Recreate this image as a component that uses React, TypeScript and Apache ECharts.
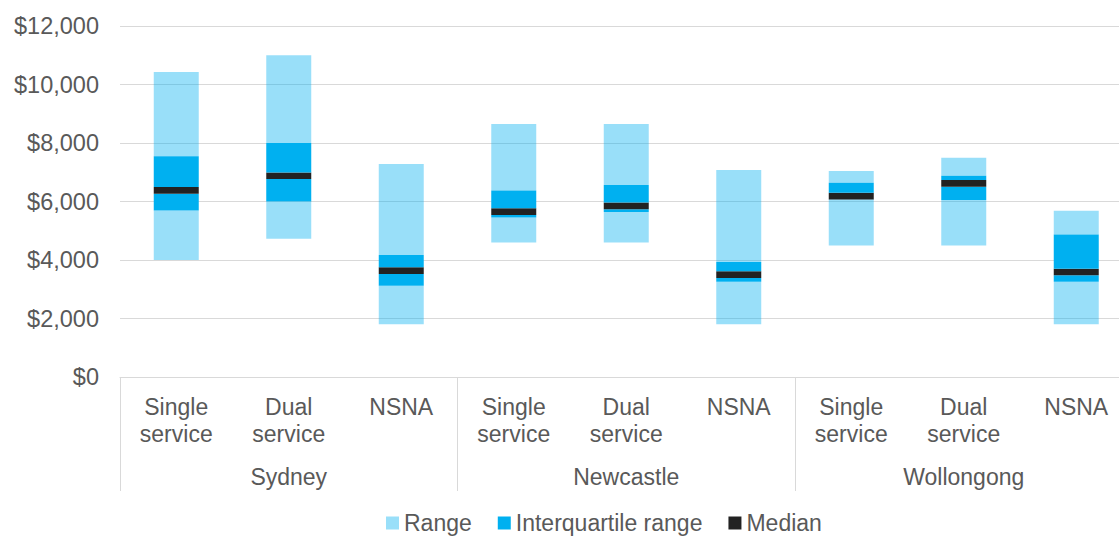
import React, { useEffect, useRef } from "react";
import * as echarts from "echarts";

const cities = ["Sydney", "Newcastle", "Wollongong"];
const types = ["Single service", "Dual service", "NSNA"];
const minVals = [4000, 4730, 1800, 4600, 4600, 1800, 4500, 4500, 1800];
const q1Vals = [5690, 6000, 3120, 5450, 5640, 3260, 6060, 6050, 3260];
const medianVals = [6380, 6880, 3640, 5650, 5850, 3500, 6180, 6620, 3590];
const q3Vals = [7550, 8000, 4170, 6380, 6560, 3930, 6640, 6880, 4870];
const maxVals = [10430, 11000, 7280, 8650, 8650, 7080, 7040, 7500, 5680];
const medianBand = 230;
const yTicks = [0, 2000, 4000, 6000, 8000, 10000, 12000];

const FONT = "'Liberation Sans', Arial, sans-serif";
const TEXT = "#595959";
const GRID = "#d9d9d9";

export default function App() {
  const ref = useRef<HTMLDivElement>(null);
  useEffect(() => {
    document.body.style.margin = "0";
    if (!ref.current) return;
    const chart = echarts.init(ref.current, undefined, { renderer: "svg" });
    const cats: string[] = [];
    cities.forEach((c) => types.forEach((t) => cats.push(c + "|" + t)));
    const h = medianBand / 2;
    const pos = (v: number) => Math.max(0, v);
    const base = minVals;
    const rangeLow = minVals.map((m, i) => pos(q1Vals[i] - m));
    const iqrLow = q1Vals.map((q, i) => pos(medianVals[i] - h - q));
    const med = medianVals.map(() => medianBand);
    const iqrHigh = q3Vals.map((q, i) => pos(q - (medianVals[i] + h)));
    const rangeHigh = maxVals.map((m, i) => pos(m - q3Vals[i]));
    const light = "rgba(0,176,240,0.4)";
    const blue = "#00B0F0";
    const dark = "#222222";
    const bar = (name: string, data: number[], color: string, extra: any = {}) => ({
      name,
      type: "bar",
      stack: "box",
      barWidth: 45,
      data,
      itemStyle: { color },
      emphasis: { disabled: true },
      ...extra,
    });
    chart.setOption({
      animation: false,
      textStyle: { fontFamily: FONT },
      grid: { left: 120, top: 26, width: 1012.5, height: 351, containLabel: false },
      legend: {
        data: ["Range", "Interquartile range", "Median"],
        left: 381,
        top: 506,
        itemWidth: 13,
        itemHeight: 13,
        itemGap: 26,
        icon: "rect",
        textStyle: { fontFamily: FONT, fontSize: 23, color: TEXT, lineHeight: 24 },
      },
      xAxis: [
        {
          type: "category",
          data: cats,
          position: "bottom",
          axisLine: { show: true, lineStyle: { color: GRID, width: 1 } },
          axisTick: { show: false },
          axisLabel: {
            interval: 0,
            margin: 16,
            color: TEXT,
            fontSize: 23,
            fontFamily: FONT,
            lineHeight: 27.5,
            formatter: (v: string) => v.split("|")[1].replace(" ", "\n"),
          },
        },
        {
          type: "category",
          data: cities,
          position: "bottom",
          axisLine: { show: false },
          axisTick: { show: true, interval: 0, length: 114, lineStyle: { color: GRID, width: 1 } },
          axisLabel: {
            interval: 0,
            margin: 86,
            color: TEXT,
            fontSize: 23,
            fontFamily: FONT,
            lineHeight: 27,
          },
        },
      ],
      yAxis: {
        type: "value",
        min: 0,
        max: 12000,
        interval: 2000,
        axisLine: { show: false },
        axisTick: { show: false },
        splitLine: { lineStyle: { color: GRID, width: 1 } },
        axisLabel: {
          margin: 21,
          color: TEXT,
          fontSize: 23.5,
          fontFamily: FONT,
          customValues: yTicks,
          formatter: (v: number) => "$" + v.toLocaleString("en-US"),
        },
      },
      series: [
        bar("base", base, "transparent", { silent: true }),
        bar("Range", rangeLow, light),
        bar("Interquartile range", iqrLow, blue),
        bar("Median", med, dark),
        bar("Interquartile range", iqrHigh, blue),
        bar("Range", rangeHigh, light),
      ],
    });
    return () => chart.dispose();
  }, []);
  return (
    <div style={{ width: 1119, height: 536, overflow: "hidden", position: "relative" }}>
      <div ref={ref} style={{ width: 1133, height: 536 }} />
    </div>
  );
}
